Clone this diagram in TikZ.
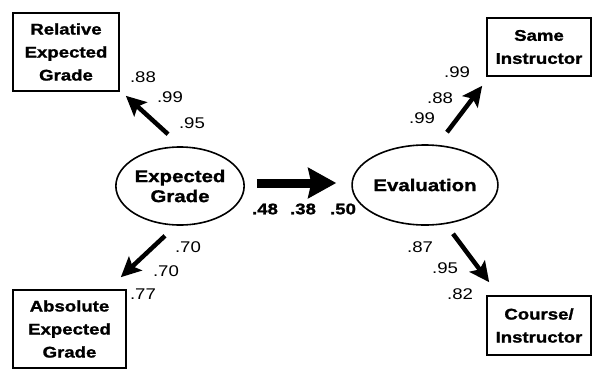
\documentclass[tikz,border=0pt]{standalone}
\usepackage{fontspec}
\setmainfont{Liberation Sans}[FakeStretch=1.2,BoldFeatures={FakeBold=1.3}]
\usetikzlibrary{arrows.meta,shapes.geometric}

\begin{document}
\begin{tikzpicture}[x=1pt,y=1pt,
        measure/.style={draw,line width=1.6pt,rectangle,align=center,inner sep=0pt,
            font=\fontsize{15.5}{23}\selectfont\bfseries},
        latent/.style={draw,line width=1.6pt,ellipse,align=center,inner sep=0pt,
            font=\fontsize{17}{20}\selectfont\bfseries},
        load/.style={-{Stealth[length=20pt,width=19pt,inset=4pt]},line width=4.5pt},
        path/.style={-{Stealth[length=28pt,width=30pt,inset=3pt]},line width=9pt},
        coef/.style={inner sep=0pt,font=\fontsize{15.5}{16}\selectfont}]
        \clip (0,0) rectangle (593,368);
        % Latent variables
            \node[latent,minimum width=126pt,minimum height=78pt] (expgrade) at (180,182) {Expected\\Grade};
            \node[latent,minimum width=124pt,minimum height=80pt] (eval) at (425,183) {Evaluation};
        % Indicators
            \node[measure,minimum width=106pt,minimum height=78pt] (relgrade) at (66,316) {Relative\\Expected\\Grade};
            \node[measure,minimum width=113pt,minimum height=78pt] (absgrade) at (69.5,39) {Absolute\\Expected\\Grade};
            \node[measure,minimum width=104pt,minimum height=58pt] (same) at (539,321) {Same\\Instructor};
            \node[measure,minimum width=104pt,minimum height=59pt] (course) at (539,42.5) {Course/\\Instructor};
        % Loadings
            \draw[load] ([shift={(-12,12)}]expgrade.north) -- ([shift={(6,-4)}]relgrade.south east);
            \draw[load] ([shift={(-15,-10)}]expgrade.south) -- ([shift={(-6,12)}]absgrade.north east);
            \draw[load] ([shift={(22,12)}]eval.north) -- ([shift={(-4,-9)}]same.south west);
            \draw[load] ([shift={(28,-8)}]eval.south) -- ([shift={(3,13)}]course.north west);
        % Structural path
            \draw[path] ([shift={(12,3)}]expgrade.east) -- ([shift={(-15,2)}]eval.west);
        % Coefficients
            \node[coef] (rg1) at (143,291) {.88};
            \node[coef] (rg2) at (170,271) {.99};
            \node[coef] (rg3) at (192,245) {.95};
            \node[coef] (ag1) at (188,121) {.70};
            \node[coef] (ag2) at (166,97) {.70};
            \node[coef] (ag3) at (143,74) {.77};
            \node[coef] (si1) at (457,296) {.99};
            \node[coef] (si2) at (440,270) {.88};
            \node[coef] (si3) at (422,250) {.99};
            \node[coef] (ci1) at (420,121) {.87};
            \node[coef] (ci2) at (445,100) {.95};
            \node[coef] (ci3) at (460,74) {.82};
            \node[coef,font=\fontsize{15.5}{16}\selectfont\bfseries] (eg1) at (265,159) {.48};
            \node[coef,font=\fontsize{15.5}{16}\selectfont\bfseries] (eg2) at (303,159) {.38};
            \node[coef,font=\fontsize{15.5}{16}\selectfont\bfseries] (eg3) at (343,159) {.50};
\end{tikzpicture}
\end{document}
